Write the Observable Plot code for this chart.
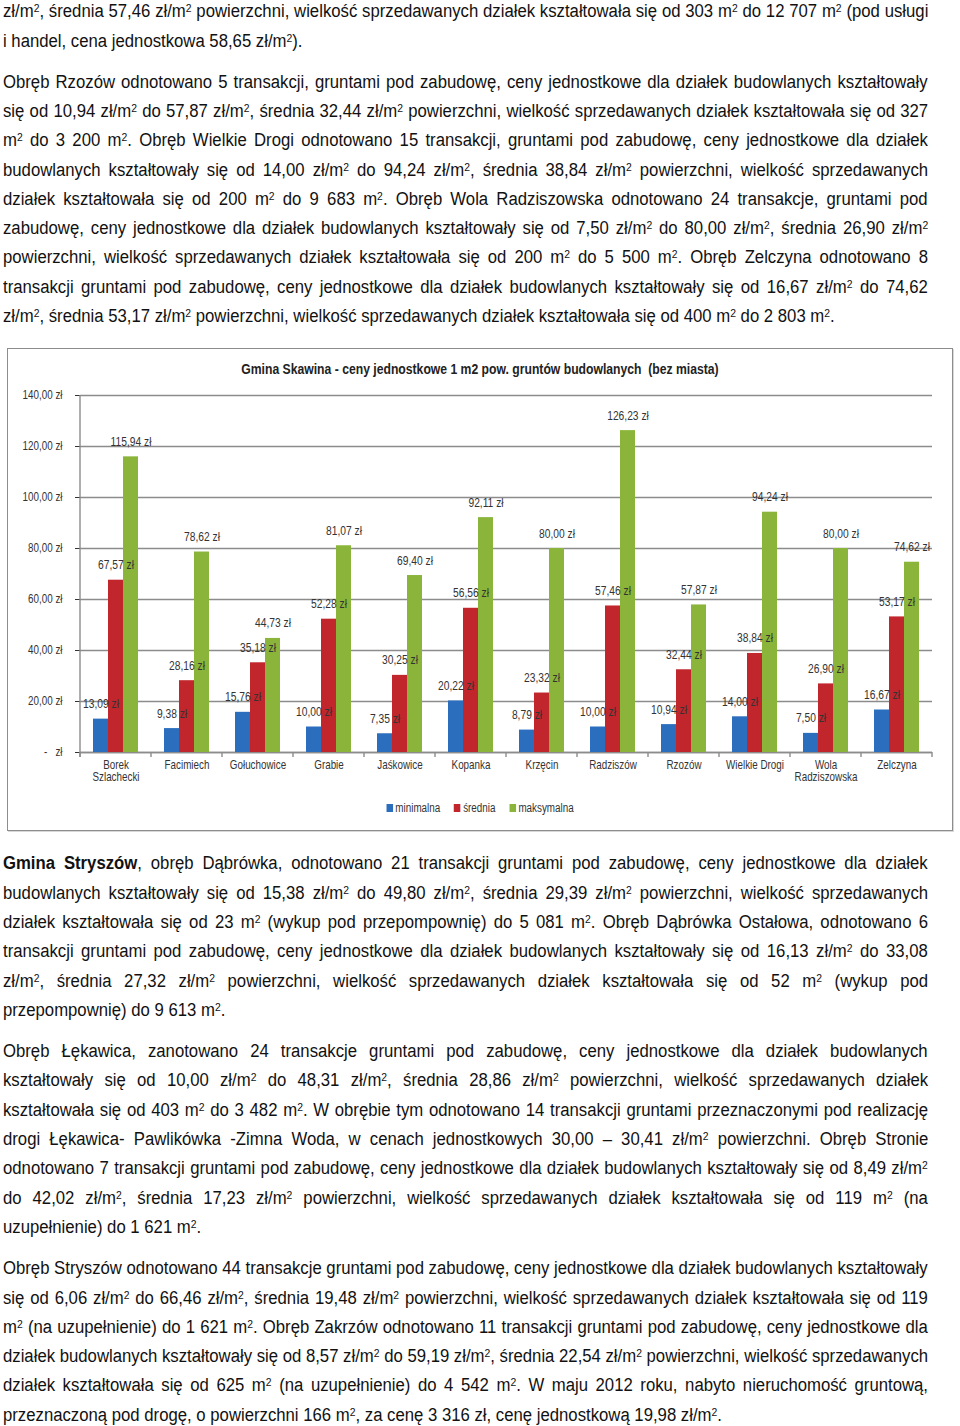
<!DOCTYPE html>
<html lang="pl">
<head>
<meta charset="utf-8">
<script src="https://cdn.jsdelivr.net/npm/d3@7"></script>
<script src="https://cdn.jsdelivr.net/npm/@observablehq/plot@0.6"></script>
<style>
  html, body { margin: 0; padding: 0; background: #fff; }
  body { width: 960px; font-family: "Liberation Sans", Arial, sans-serif; color: #111; font-size: 18px; overflow: hidden; }
  .para { margin-left: 3px; width: 925px; }
  .ln { height: 29.3px; line-height: 29.3px; white-space: nowrap; overflow: visible; }
  .ln span.inner { display: inline-block; white-space: nowrap; transform-origin: 0 50%; }
  sup { font-size: 0.62em; vertical-align: 0.42em; line-height: 0; }
  #box { position: relative; margin-left: 7px; width: 944px; height: 481px; border: 1px solid #8d8d8d; box-shadow: 1px 1px 0 #d8d8d8; background: #fff; }
  #title { position: absolute; top: 12px; left: 0; width: 944px; text-align: center; font-weight: bold; font-size: 14.5px; line-height: 16px; color: #222; transform: scaleX(0.84); transform-origin: 50% 50%; }
  #chart { position: absolute; top: 31px; left: 0; }
  #legend { position: absolute; top: 452px; left: 0; width: 944px; display: flex; justify-content: center; gap: 17px; font-size: 12px; line-height: 14px; color: #333; transform: scaleX(0.82); transform-origin: 50% 50%; }
  #legend .item { display: flex; align-items: center; gap: 3px; }
  #legend .sw { width: 8px; height: 8px; display: inline-block; }
</style>
</head>
<body>
<div id="page"></div>
<script>
// ---- chart data ----
const categories = ["Borek Szlachecki", "Facimiech", "Gołuchowice", "Grabie", "Jaśkowice", "Kopanka", "Krzęcin", "Radziszów", "Rzozów", "Wielkie Drogi", "Wola Radziszowska", "Zelczyna"];
const categoryTickLabels = ["Borek\nSzlachecki", "Facimiech", "Gołuchowice", "Grabie", "Jaśkowice", "Kopanka", "Krzęcin", "Radziszów", "Rzozów", "Wielkie Drogi", "Wola\nRadziszowska", "Zelczyna"];
const seriesNames = ["minimalna", "średnia", "maksymalna"];
const minimalna = [13.09, 9.38, 15.76, 10.00, 7.35, 20.22, 8.79, 10.00, 10.94, 14.00, 7.50, 16.67];
const srednia = [67.57, 28.16, 35.18, 52.28, 30.25, 56.56, 23.32, 57.46, 32.44, 38.84, 26.90, 53.17];
const maksymalna = [115.94, 78.62, 44.73, 81.07, 69.40, 92.11, 80.00, 126.23, 57.87, 94.24, 80.00, 74.62];
const seriesColors = ["#2c6ebe", "#c0262c", "#8ab53a"];
const yTicks = [0, 20, 40, 60, 80, 100, 120, 140];
const chartTitle = "Gmina Skawina - ceny jednostkowe 1 m2 pow. gruntów budowlanych\u00a0 (bez miasta)";

// ---- page text (line by line) ----
const paragraphs = [
  {mt: -2.6, lines: [
    "zł/m2, średnia 57,46 zł/m2 powierzchni, wielkość sprzedawanych działek kształtowała się od 303 m2 do 12 707 m2 (pod usługi",
    "i handel, cena jednostkowa 58,65 zł/m2)."]},
  {mt: 11.7, lines: [
    "Obręb Rzozów odnotowano 5 transakcji, gruntami pod zabudowę, ceny jednostkowe dla działek budowlanych kształtowały",
    "się od 10,94 zł/m2 do 57,87 zł/m2, średnia 32,44 zł/m2 powierzchni, wielkość sprzedawanych działek kształtowała się od 327",
    "m2 do 3 200 m2. Obręb Wielkie Drogi odnotowano 15 transakcji, gruntami pod zabudowę, ceny jednostkowe dla działek",
    "budowlanych kształtowały się od 14,00 zł/m2 do 94,24 zł/m2, średnia 38,84 zł/m2 powierzchni, wielkość sprzedawanych",
    "działek kształtowała się od 200 m2 do 9 683 m2. Obręb Wola Radziszowska odnotowano 24 transakcje, gruntami pod",
    "zabudowę, ceny jednostkowe dla działek budowlanych kształtowały się od 7,50 zł/m2 do 80,00 zł/m2, średnia 26,90 zł/m2",
    "powierzchni, wielkość sprzedawanych działek kształtowała się od 200 m2 do 5 500 m2. Obręb Zelczyna odnotowano 8",
    "transakcji gruntami pod zabudowę, ceny jednostkowe dla działek budowlanych kształtowały się od 16,67 zł/m2 do 74,62",
    "zł/m2, średnia 53,17 zł/m2 powierzchni, wielkość sprzedawanych działek kształtowała się od 400 m2 do 2 803 m2."]},
  "CHART",
  {mt: 18, lines: [
    "<b>Gmina Stryszów</b>, obręb Dąbrówka, odnotowano 21 transakcji gruntami pod zabudowę, ceny jednostkowe dla działek",
    "budowlanych kształtowały się od 15,38 zł/m2 do 49,80 zł/m2, średnia 29,39 zł/m2 powierzchni, wielkość sprzedawanych",
    "działek kształtowała się od 23 m2 (wykup pod przepompownię) do 5 081 m2. Obręb Dąbrówka Ostałowa, odnotowano 6",
    "transakcji gruntami pod zabudowę, ceny jednostkowe dla działek budowlanych kształtowały się od 16,13 zł/m2 do 33,08",
    "zł/m2, średnia 27,32 zł/m2 powierzchni, wielkość sprzedawanych działek kształtowała się od 52 m2 (wykup pod",
    "przepompownię) do 9 613 m2."]},
  {mt: 12, lines: [
    "Obręb Łękawica, zanotowano 24 transakcje gruntami pod zabudowę, ceny jednostkowe dla działek budowlanych",
    "kształtowały się od 10,00 zł/m2 do 48,31 zł/m2, średnia 28,86 zł/m2 powierzchni, wielkość sprzedawanych działek",
    "kształtowała się od 403 m2 do 3 482 m2. W obrębie tym odnotowano 14 transakcji gruntami przeznaczonymi pod realizację",
    "drogi Łękawica- Pawlikówka -Zimna Woda, w cenach jednostkowych 30,00 – 30,41 zł/m2 powierzchni. Obręb Stronie",
    "odnotowano 7 transakcji gruntami pod zabudowę, ceny jednostkowe dla działek budowlanych kształtowały się od 8,49 zł/m2",
    "do 42,02 zł/m2, średnia 17,23 zł/m2 powierzchni, wielkość sprzedawanych działek kształtowała się od 119 m2 (na",
    "uzupełnienie) do 1 621 m2."]},
  {mt: 12, lines: [
    "Obręb Stryszów odnotowano 44 transakcje gruntami pod zabudowę, ceny jednostkowe dla działek budowlanych kształtowały",
    "się od 6,06 zł/m2 do 66,46 zł/m2, średnia 19,48 zł/m2 powierzchni, wielkość sprzedawanych działek kształtowała się od 119",
    "m2 (na uzupełnienie) do 1 621 m2. Obręb Zakrzów odnotowano 11 transakcji gruntami pod zabudowę, ceny jednostkowe dla",
    "działek budowlanych kształtowały się od 8,57 zł/m2 do 59,19 zł/m2, średnia 22,54 zł/m2 powierzchni, wielkość sprzedawanych",
    "działek kształtowała się od 625 m2 (na uzupełnienie) do 4 542 m2. W maju 2012 roku, nabyto nieruchomość gruntową,",
    "przeznaczoną pod drogę, o powierzchni 166 m2, za cenę 3 316 zł, cenę jednostkową 19,98 zł/m2."]}
];

const page = document.getElementById("page");
const sup = s => s.replace(/m2/g, "m<sup>2</sup>");
const lineEls = [];

for (const p of paragraphs) {
  if (p === "CHART") {
    const box = document.createElement("div");
    box.id = "box";
    box.style.marginTop = "17px";
    box.innerHTML = `<div id="title"></div><div id="chart"></div><div id="legend"></div>`;
    page.appendChild(box);
    continue;
  }
  const div = document.createElement("div");
  div.className = "para";
  div.style.marginTop = p.mt + "px";
  p.lines.forEach((t, i) => {
    const ln = document.createElement("div");
    ln.className = "ln";
    const inner = document.createElement("span");
    inner.className = "inner";
    inner.innerHTML = sup(t);
    ln.appendChild(inner);
    div.appendChild(ln);
    lineEls.push({el: inner, justify: i < p.lines.length - 1});
  });
  page.appendChild(div);
}

// narrow the text horizontally (Arial Narrow look); calibrated on the last, unjustified line (719px wide)
const lastLine = lineEls[lineEls.length - 1].el;
const sx = 719 / lastLine.offsetWidth;
for (const {el, justify} of lineEls) {
  if (justify) {
    const w = el.offsetWidth;
    const spaces = (el.textContent.match(/ /g) || []).length;
    if (spaces > 0) el.style.wordSpacing = ((925 / sx - w) / spaces) + "px";
  }
  el.style.transform = `scaleX(${sx})`;
}

// ---- chart ----
document.getElementById("title").textContent = chartTitle;

const seriesValues = [minimalna, srednia, maksymalna];
const data = categories.flatMap((c, i) => seriesNames.map((s, j) => ({cat: c, series: s, value: seriesValues[j][i]})));
const fmtZl = v => v.toFixed(2).replace(".", ",") + " zł";
const font = '"Liberation Sans", Arial, sans-serif';

const chart = Plot.plot({
  width: 944,
  height: 420,
  marginLeft: 67,
  marginRight: 16,
  marginTop: 15,
  marginBottom: 48,
  style: {fontFamily: font, fontSize: "12px", color: "#333", background: "transparent"},
  fx: {domain: categories, padding: 0, label: null, tickSize: 0, tickPadding: 8,
       tickFormat: d => categoryTickLabels[categories.indexOf(d)]},
  x: {domain: seriesNames, paddingInner: 0, paddingOuter: 0.77, axis: null},
  y: {domain: [0, 140], ticks: yTicks, label: null, tickSize: 5, tickPadding: 13,
      tickFormat: d => d === 0 ? "-\u00a0\u00a0\u00a0zł" : fmtZl(d)},
  color: {domain: seriesNames, range: seriesColors},
  marks: [
    Plot.gridY(yTicks, {stroke: "#8c8c8c", strokeOpacity: 1, strokeWidth: 1.4}),
    Plot.ruleY([0], {stroke: "#8c8c8c", strokeWidth: 1.4}),
    Plot.barY(data, {fx: "cat", x: "series", y: "value", fill: "series"}),
    Plot.text(data, {fx: "cat", x: "series", y: "value", text: d => fmtZl(d.value), dy: -15, fill: "#333", fontSize: 12.5})
  ]
});

// category boundary ticks and vertical axis line, placed with the plot's own scales
const fxS = chart.scale("fx"), yS = chart.scale("y");
const svg = d3.select(chart);
const y0 = yS.apply(0), yTop = yS.apply(140);
const bounds = categories.map(c => fxS.apply(c));
bounds.push(fxS.apply(categories[categories.length - 1]) + fxS.bandwidth);
const g = svg.append("g").attr("stroke", "#8c8c8c").attr("stroke-width", 1.4);
g.selectAll("line.b").data(bounds).join("line")
  .attr("x1", d => d).attr("x2", d => d).attr("y1", y0).attr("y2", y0 + 5);
g.append("line").attr("x1", bounds[0]).attr("x2", bounds[0]).attr("y1", yTop).attr("y2", y0 + 5);

// narrow all chart texts around their anchor point
svg.selectAll("text").each(function () {
  const t = this.getAttribute("transform") || "";
  this.setAttribute("transform", (t + " scale(0.82,1)").trim());
});

document.getElementById("chart").appendChild(chart);

// legend
const legend = document.getElementById("legend");
seriesNames.forEach((s, j) => {
  const it = document.createElement("div");
  it.className = "item";
  it.innerHTML = `<span class="sw" style="background:${seriesColors[j]}"></span><span>${s}</span>`;
  legend.appendChild(it);
});
</script>
</body>
</html>
